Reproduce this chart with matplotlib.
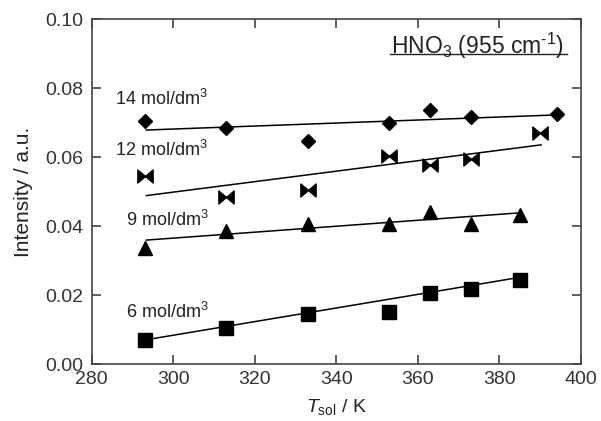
import matplotlib
matplotlib.use("Agg")
import matplotlib.pyplot as plt
from matplotlib.path import Path
import numpy as np

plt.rcParams['font.family'] = ['Liberation Sans', 'DejaVu Sans']
plt.rcParams['mathtext.fontset'] = 'custom'
plt.rcParams['mathtext.rm'] = 'Liberation Sans'
plt.rcParams['mathtext.it'] = 'Liberation Sans:italic'

# ---- data ----
x14 = [293, 313, 333, 353, 363, 373, 394]
y14 = [0.0706, 0.0686, 0.0646, 0.0698, 0.0737, 0.0718, 0.0725]
x12 = [293, 313, 333, 353, 363, 373, 390]
y12 = [0.0546, 0.0486, 0.0505, 0.0604, 0.0578, 0.0595, 0.0671]
x9 = [293, 313, 333, 353, 363, 373, 385]
y9 = [0.0336, 0.0386, 0.0407, 0.0407, 0.0441, 0.0407, 0.0433]
x6 = [293, 313, 333, 353, 363, 373, 385]
y6 = [0.0070, 0.0104, 0.0145, 0.0153, 0.0206, 0.0217, 0.0244]

fit14_x = [293.4, 394.5]
fit14_y = [0.0679, 0.0723]
fit12_x = [293.4, 390.2]
fit12_y = [0.0489, 0.0636]
fit9_x = [293.4, 385.0]
fit9_y = [0.0360, 0.0439]
fit6_x = [293.8, 385.0]
fit6_y = [0.0072, 0.0252]

labels = [r"14 mol/dm$^{3}$", r"12 mol/dm$^{3}$", r"9 mol/dm$^{3}$", r"6 mol/dm$^{3}$"]
label_x = [285.7, 285.7, 288.4, 288.4]
label_y = [0.0752, 0.0604, 0.0401, 0.0135]

xticks = [280, 300, 320, 340, 360, 380, 400]
yticks = [0.00, 0.02, 0.04, 0.06, 0.08, 0.10]

# bowtie marker
bowtie = Path([(-1, 0.85), (0, 0), (-1, -0.85), (-1, 0.85),
               (1, 0.85), (0, 0), (1, -0.85), (1, 0.85)],
              [Path.MOVETO, Path.LINETO, Path.LINETO, Path.CLOSEPOLY,
               Path.MOVETO, Path.LINETO, Path.LINETO, Path.CLOSEPOLY])

fig = plt.figure(figsize=(6.01, 4.21), dpi=100)
ax = fig.add_axes([0.1526, 0.1347, 0.8141, 0.8195])

lc = 'black'
lw = 1.1
ax.plot(fit14_x, fit14_y, color=lc, lw=lw, zorder=2)
ax.plot(fit12_x, fit12_y, color=lc, lw=lw, zorder=2)
ax.plot(fit9_x, fit9_y, color=lc, lw=lw, zorder=2)
ax.plot(fit6_x, fit6_y, color=lc, lw=lw, zorder=2)

ax.plot(x14, y14, 'D', color='black', ms=6.7, ls='none', zorder=3)
ax.plot(x12, y12, marker=bowtie, color='black', ms=11, ls='none', zorder=3)
ax.plot(x9, y9, '^', color='black', ms=10, ls='none', zorder=3)
ax.plot(x6, y6, 's', color='black', ms=10.5, ls='none', zorder=3)

for t, lx, ly in zip(labels, label_x, label_y):
    ax.text(lx, ly, t, fontsize=13, color='#222222', ha='left', va='baseline')

ax.text(0.612, 0.901, r"HNO$_3$ (955 cm$^{\text{-1}}$)", transform=ax.transAxes,
        fontsize=16.5, color='#222222', ha='left', va='baseline')
ax.plot([0.610, 0.971], [0.8986, 0.8986], transform=ax.transAxes,
        color='#222222', lw=1.0, clip_on=False)

ax.set_xlim(280, 400)
ax.set_ylim(0.0, 0.10)
ax.set_xticks(xticks)
ax.set_yticks(yticks)
ax.set_yticklabels([f"{v:.2f}" for v in yticks])
ax.tick_params(direction='in', length=6.5, width=1.1, top=True, right=True,
               labelsize=14, colors='#333333', pad=5)
ax.tick_params(axis='y', pad=6)
for s in ax.spines.values():
    s.set_linewidth(1.2)
    s.set_color('#444444')

ax.set_xlabel(r"$T_{\rm sol}$ / K", fontsize=14, color='#222222', labelpad=6)
ax.set_ylabel("Intensity / a.u.", fontsize=15, color='#222222', labelpad=9)

fig.savefig("out.png", dpi=100)
